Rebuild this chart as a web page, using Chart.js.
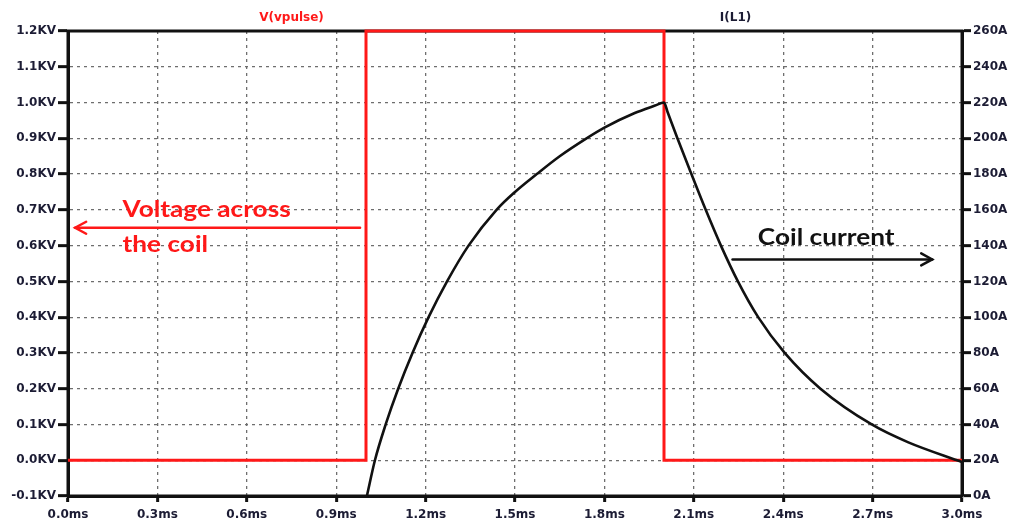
<!DOCTYPE html>
<html><head><meta charset="utf-8">
<script src="https://cdn.jsdelivr.net/npm/chart.js@4"></script>
<style>html,body{margin:0;padding:0;background:#fff;overflow:hidden}#wrap{width:1012px;height:522px;position:relative}</style>
</head><body><div id="wrap"><canvas id="c" width="1012" height="522"></canvas></div>
<script>
// ---- data ----
const timeTickValues = [0, 0.3, 0.6, 0.9, 1.2, 1.5, 1.8, 2.1, 2.4, 2.7, 3.0];
const timeTickLabels = ["0.0ms","0.3ms","0.6ms","0.9ms","1.2ms","1.5ms","1.8ms","2.1ms","2.4ms","2.7ms","3.0ms"];
const voltTickValues = [-0.1, 0, 0.1, 0.2, 0.3, 0.4, 0.5, 0.6, 0.7, 0.8, 0.9, 1.0, 1.1, 1.2];
const voltTickLabels = ["-0.1KV","0.0KV","0.1KV","0.2KV","0.3KV","0.4KV","0.5KV","0.6KV","0.7KV","0.8KV","0.9KV","1.0KV","1.1KV","1.2KV"];
const ampTickValues = [0, 20, 40, 60, 80, 100, 120, 140, 160, 180, 200, 220, 240, 260];
const ampTickLabels = ["0A","20A","40A","60A","80A","100A","120A","140A","160A","180A","200A","220A","240A","260A"];

const pulseTimes = [0, 1.0, 1.0, 2.0, 2.0, 3.0];
const pulseVolts = [0, 0, 1.2, 1.2, 0, 0];

const currentTimes = [1.003, 1.030, 1.066, 1.108, 1.156, 1.210, 1.272, 1.344, 1.438, 1.5, 1.573, 1.65, 1.74, 1.8, 1.9, 1.97, 2.0,
                      2.012, 2.045, 2.092, 2.140, 2.191, 2.248, 2.316, 2.405, 2.525, 2.697, 2.82, 3.0];
const currentAmps  = [0, 20, 40, 60, 80, 100, 120, 140, 160, 170, 180, 190, 200, 206, 214, 218.3, 220,
                      214.7, 200, 180, 160, 140, 120, 100, 80, 60, 40, 30, 19];

const seriesNames = ["V(vpulse)", "I(L1)"];
const noteVoltage = ["Voltage across", "the coil"];
const noteCurrent = "Coil current";

// ---- styling ----
const RED = 'rgb(255,24,24)';
const LABEL = '#1c1c34';
const tickFont = {family: 'DejaVu Sans', weight: 'bold', size: 12};

const overlay = {
  id: 'overlay',
  beforeDatasetsDraw(chart) {
    const {ctx, chartArea: a} = chart;
    ctx.save();
    ctx.strokeStyle = '#111';
    ctx.lineWidth = 3;
    ctx.strokeRect(a.left, a.top, a.right - a.left, a.bottom - a.top);
    ctx.restore();
  },
  afterDraw(chart) {
    const {ctx, chartArea: a, scales} = chart;
    const X = scales.x, V = scales.yV, I = scales.yI;
    ctx.save();
    ctx.font = 'bold 12px "DejaVu Sans"';
    ctx.textAlign = 'center';
    ctx.textBaseline = 'middle';
    ctx.fillStyle = RED;
    ctx.fillText(seriesNames[0], X.getPixelForValue(0.75), a.top - 13);
    ctx.fillStyle = LABEL;
    ctx.fillText(seriesNames[1], X.getPixelForValue(2.24), a.top - 13);

    function arrow(x1, y1, x2, y2, color) {
      ctx.strokeStyle = color; ctx.lineWidth = 2.5; ctx.lineCap = 'round';
      ctx.beginPath(); ctx.moveTo(x1, y1); ctx.lineTo(x2, y2); ctx.stroke();
      const dir = Math.sign(x2 - x1);
      ctx.beginPath();
      ctx.moveTo(x2 - dir * 11, y2 - 6); ctx.lineTo(x2, y2); ctx.lineTo(x2 - dir * 11, y2 + 6);
      ctx.stroke();
    }
    function note(text, x, y, color) {
      ctx.save();
      ctx.translate(x, y);
      ctx.scale(1.14, 1);
      ctx.font = 'bold 23px Lato';
      ctx.textAlign = 'left';
      ctx.textBaseline = 'alphabetic';
      ctx.fillStyle = color;
      ctx.fillText(text, 0, 0);
      ctx.restore();
    }
    note(noteVoltage[0], X.getPixelForValue(0.183), V.getPixelForValue(0.68), RED);
    note(noteVoltage[1], X.getPixelForValue(0.183), V.getPixelForValue(0.582), RED);
    arrow(X.getPixelForValue(0.98), V.getPixelForValue(0.65), X.getPixelForValue(0.024), V.getPixelForValue(0.65), RED);
    note(noteCurrent, X.getPixelForValue(2.315), I.getPixelForValue(140.3), '#111');
    arrow(X.getPixelForValue(2.23), I.getPixelForValue(132.3), X.getPixelForValue(2.9), I.getPixelForValue(132.3), '#111');
    ctx.restore();
  }
};

function axisGrid(onArea) {
  return {
    drawOnChartArea: onArea, color: '#6e6e6e', lineWidth: 1.3,
    drawTicks: true, tickColor: '#111', tickWidth: 3, tickBorderDash: []
  };
}

new Chart(document.getElementById('c'), {
  type: 'line',
  data: {
    datasets: [
      {
        label: seriesNames[1],
        data: currentTimes.map((t, i) => ({x: t, y: currentAmps[i]})),
        yAxisID: 'yI', borderColor: '#111', borderWidth: 2.6,
        pointRadius: 0, cubicInterpolationMode: 'monotone', fill: false, order: 0, clip: 4
      },
      {
        label: seriesNames[0],
        data: pulseTimes.map((t, i) => ({x: t, y: pulseVolts[i]})),
        yAxisID: 'yV', borderColor: RED, borderWidth: 3,
        pointRadius: 0, tension: 0, fill: false, order: 1, clip: 4
      }
    ]
  },
  options: {
    responsive: false, animation: false,
    layout: {padding: {top: 31, left: 0, right: 0, bottom: 0}},
    plugins: {legend: {display: false}, tooltip: {enabled: false}, title: {display: false}},
    scales: {
      x: {
        type: 'linear', min: 0, max: 3,
        afterBuildTicks: s => { s.ticks = timeTickValues.map(v => ({value: v})); },
        afterFit: s => { s.height = 26; },
        grid: Object.assign(axisGrid(true), {tickLength: 6}),
        border: {display: true, color: '#111', width: 3, dash: [3, 4]},
        ticks: {padding: 6, color: LABEL, font: tickFont, maxRotation: 0, autoSkip: false,
                callback: (v, i) => timeTickLabels[i]}
      },
      yV: {
        type: 'linear', position: 'left', min: -0.1, max: 1.2,
        afterBuildTicks: s => { s.ticks = voltTickValues.map(v => ({value: v})); },
        afterFit: s => { s.width = 68; },
        grid: Object.assign(axisGrid(true), {tickLength: 10}),
        border: {display: true, color: '#111', width: 3, dash: [3, 4]},
        ticks: {padding: 2, color: LABEL, font: tickFont, autoSkip: false,
                callback: (v, i) => voltTickLabels[i]}
      },
      yI: {
        type: 'linear', position: 'right', min: 0, max: 260,
        afterBuildTicks: s => { s.ticks = ampTickValues.map(v => ({value: v})); },
        afterFit: s => { s.width = 50; },
        grid: Object.assign(axisGrid(false), {tickLength: 9}),
        border: {display: true, color: '#111', width: 3},
        ticks: {padding: 2, color: LABEL, font: tickFont, autoSkip: false,
                callback: (v, i) => ampTickLabels[i]}
      }
    }
  },
  plugins: [overlay]
});
</script></body></html>
